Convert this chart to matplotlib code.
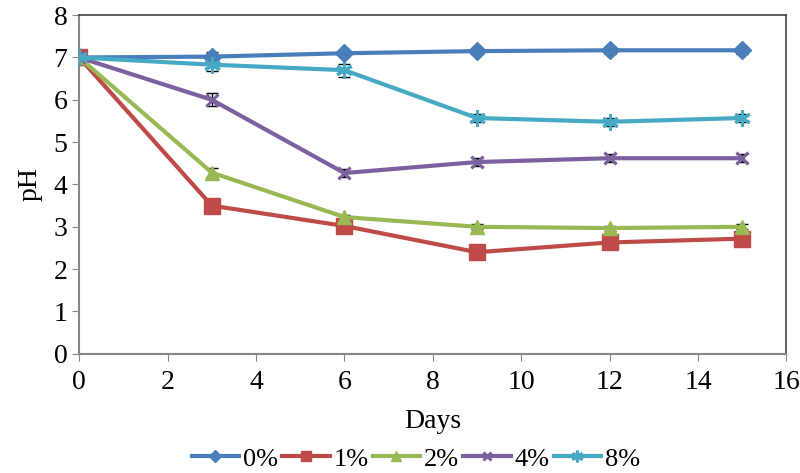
import matplotlib
matplotlib.use("Agg")
import matplotlib.pyplot as plt

days = [0, 3, 6, 9, 12, 15]
labels = ["0%", "1%", "2%", "4%", "8%"]
ph_0 = [7.0, 7.02, 7.1, 7.15, 7.17, 7.17]
ph_1 = [7.0, 3.5, 3.02, 2.4, 2.63, 2.72]
ph_2 = [7.0, 4.28, 3.23, 3.0, 2.97, 3.0]
ph_4 = [7.0, 6.0, 4.27, 4.53, 4.62, 4.62]
ph_8 = [7.0, 6.83, 6.7, 5.57, 5.48, 5.57]
err_0 = [0.1, 0.12, 0.06, 0.06, 0.08, 0.08]
err_1 = [0.08, 0.06, 0.06, 0.06, 0.08, 0.06]
err_2 = [0.06, 0.1, 0.06, 0.06, 0.06, 0.06]
err_4 = [0.1, 0.15, 0.1, 0.1, 0.1, 0.1]
err_8 = [0.1, 0.15, 0.15, 0.1, 0.1, 0.1]

series = [ph_0, ph_1, ph_2, ph_4, ph_8]
errors = [err_0, err_1, err_2, err_4, err_8]
colors = ["#4A7EBB", "#BE4B48", "#98B954", "#7D60A0", "#46AAC5"]
markers = ["D", "s", "^", "x", (6, 2, 0)]
msizes = [9, 11, 10, 9, 12]

plt.rcParams["font.family"] = ["Liberation Serif", "DejaVu Serif"]

fig = plt.figure(figsize=(8, 4.73), dpi=100)
ax = fig.add_axes([0.099, 0.252, 0.884, 0.716])

for y, e, c, m, ms, lab in zip(series, errors, colors, markers, msizes, labels):
    ax.errorbar(days, y, yerr=e, fmt="none", ecolor="black", elinewidth=1,
                capsize=4, capthick=1, zorder=2)
    thin = m == "x" or isinstance(m, tuple)
    ax.plot(days, y, color=c, lw=3, marker=m, ms=ms, mec=c, mew=2.2 if thin else 1,
            mfc=c, label=lab, zorder=3)

ax.set_xlim(0, 16)
ax.set_ylim(0, 8)
ax.set_xticks(range(0, 17, 2))
ax.set_yticks(range(0, 9))
ax.tick_params(labelsize=20, length=5, color="#888888", direction="out")
ax.tick_params(axis="x", pad=7)
for s in ("left", "bottom"):
    ax.spines[s].set_color("#888888")
    ax.spines[s].set_linewidth(1.5)
for s in ("top", "right"):
    ax.spines[s].set_color("#444444")
    ax.spines[s].set_linewidth(1.2)

ax.set_xlabel("Days", fontsize=20, labelpad=10)
ax.set_ylabel("pH", fontsize=20, labelpad=8)

fig.legend(loc="center", bbox_to_anchor=(0.52, 0.03), ncol=5, frameon=False,
           fontsize=19, handlelength=1.8, handletextpad=0.15, columnspacing=0.15,
           markerscale=0.7)

fig.savefig("out.png", dpi=100)
